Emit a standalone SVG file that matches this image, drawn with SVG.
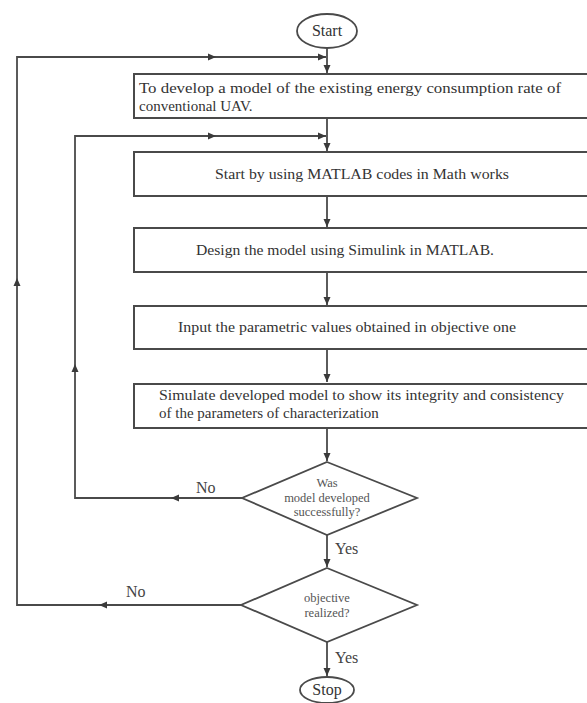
<svg xmlns="http://www.w3.org/2000/svg" width="587" height="703" viewBox="0 0 587 703">
<style>
.bg{fill:#fff}
.box{fill:#fff;stroke:#4a4a4a;stroke-width:2}
.term{fill:#fff;stroke:#4a4a4a;stroke-width:1.8}
.dia{fill:#fff;stroke:#4a4a4a;stroke-width:1.8}
.ln{fill:none;stroke:#4a4a4a;stroke-width:1.8}
.ah{fill:#3a3a3a}
.t{font-family:"Liberation Serif","Times New Roman",serif;font-size:15px;fill:#333}
.tc{text-anchor:middle}
.ts{font-family:"Liberation Serif","Times New Roman",serif;font-size:12.5px;fill:#555;text-anchor:middle}
.lb{font-family:"Liberation Serif","Times New Roman",serif;font-size:16px;fill:#444}
</style>
<defs>
<marker id="arr" markerUnits="userSpaceOnUse" markerWidth="9" markerHeight="8" refX="8" refY="4" orient="auto">
<path d="M0,0.5 L8,4 L0,7.5 Z" fill="#3a3a3a"/>
</marker>
<path id="tri" d="M4,0 L-4,-3.5 L-4,3.5 Z"/>
</defs>
<rect class="bg" x="0" y="0" width="587" height="703"/>

<g id="connectors">
<line class="ln" x1="327" y1="48" x2="327" y2="73" marker-end="url(#arr)"/>
<line class="ln" x1="327" y1="118" x2="327" y2="151" marker-end="url(#arr)"/>
<line class="ln" x1="327" y1="196" x2="327" y2="227" marker-end="url(#arr)"/>
<line class="ln" x1="327" y1="272" x2="327" y2="305" marker-end="url(#arr)"/>
<line class="ln" x1="327" y1="349" x2="327" y2="382" marker-end="url(#arr)"/>
<line class="ln" x1="327" y1="428" x2="327" y2="461" marker-end="url(#arr)"/>
<line class="ln" x1="327" y1="535" x2="327" y2="567" marker-end="url(#arr)"/>
<line class="ln" x1="327" y1="642" x2="327" y2="676" marker-end="url(#arr)"/>
<polyline class="ln" points="242,498 75,498 75,136 326,136" marker-end="url(#arr)"/>
<polyline class="ln" points="241,605 17,605 17,57 326,57" marker-end="url(#arr)"/>
<use href="#tri" class="ah" transform="translate(212,57)"/>
<use href="#tri" class="ah" transform="translate(212,136)"/>
<use href="#tri" class="ah" transform="translate(17,282) rotate(-90)"/>
<use href="#tri" class="ah" transform="translate(75,368) rotate(-90)"/>
<use href="#tri" class="ah" transform="translate(175,498) rotate(180)"/>
<use href="#tri" class="ah" transform="translate(103,605) rotate(180)"/>
<text class="lb" x="196" y="493">No</text>
<text class="lb" x="126" y="597">No</text>
<text class="lb" x="335" y="554">Yes</text>
<text class="lb" x="335" y="663">Yes</text>
</g>

<g id="start">
<ellipse class="term" cx="327" cy="31" rx="30" ry="17"/>
<text class="t tc" x="327" y="36" style="font-size:16px">Start</text>
</g>

<g id="box1">
<rect class="box" x="134" y="74" width="460" height="44"/>
<text class="t" x="139" y="93" textLength="422" lengthAdjust="spacingAndGlyphs">To develop a model of the existing energy consumption rate of</text>
<text class="t" x="139" y="111">conventional UAV.</text>
</g>

<g id="box2">
<rect class="box" x="134" y="152" width="460" height="44"/>
<text class="t tc" x="362" y="179" textLength="294" lengthAdjust="spacingAndGlyphs">Start by using MATLAB codes in Math works</text>
</g>

<g id="box3">
<rect class="box" x="134" y="228" width="460" height="44"/>
<text class="t tc" x="345" y="255" textLength="298" lengthAdjust="spacingAndGlyphs">Design the model using Simulink in MATLAB.</text>
</g>

<g id="box4">
<rect class="box" x="134" y="306" width="460" height="43"/>
<text class="t tc" x="347" y="332" textLength="338" lengthAdjust="spacingAndGlyphs">Input the parametric values obtained in objective one</text>
</g>

<g id="box5">
<rect class="box" x="134" y="384" width="460" height="44"/>
<text class="t" x="159" y="400" textLength="405" lengthAdjust="spacingAndGlyphs">Simulate developed model to show its integrity and consistency</text>
<text class="t" x="159" y="418">of the parameters of characterization</text>
</g>

<g id="decision1">
<polygon class="dia" points="327,462 417,498 327,535 242,498"/>
<text class="ts" x="327" y="487">Was</text>
<text class="ts" x="327" y="502">model developed</text>
<text class="ts" x="327" y="516">successfully?</text>
</g>

<g id="decision2">
<polygon class="dia" points="327,568 417,605 327,642 241,605"/>
<text class="ts" x="327" y="602">objective</text>
<text class="ts" x="327" y="617">realized?</text>
</g>

<g id="stop">
<ellipse class="term" cx="327" cy="690" rx="27" ry="13"/>
<text class="t tc" x="327" y="695" style="font-size:16px">Stop</text>
</g>
</svg>
